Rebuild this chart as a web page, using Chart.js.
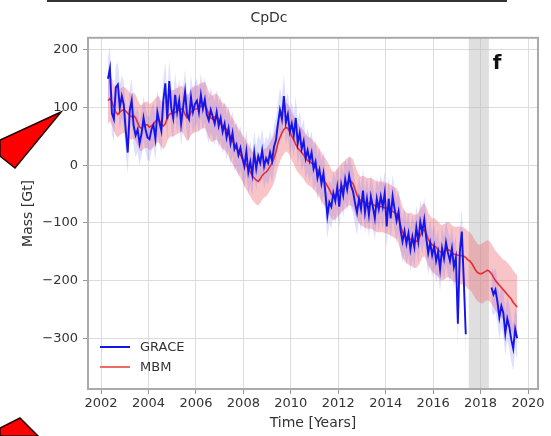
<!DOCTYPE html>
<html>
<head>
<meta charset="utf-8">
<script src="https://cdn.jsdelivr.net/npm/chart.js@4/dist/chart.umd.min.js"></script>
<style>
  html, body { margin: 0; padding: 0; background: #fff; }
  canvas { display: block; }
</style>
</head>
<body>
<canvas id="mass-chart" width="551" height="436"></canvas>
<script>
// Monthly series, first value is April 2002, last is July 2019.
const seriesStart = { year: 2002, month: 4 };

const mbmMass = [
  112, 116, 110, 100, 92, 88, 92, 95, 96,
  94, 90, 86, 84, 86, 82, 74, 66, 64, 68, 70, 70,
  66, 68, 72, 76, 80, 78, 72, 68, 72, 82, 88, 90,
  90, 92, 94, 96, 98, 96, 88, 82, 84, 92, 96, 97,
  98, 100, 102, 104, 104, 98, 88, 82, 80, 84, 84, 80,
  72, 68, 66, 62, 56, 48, 42, 36, 30, 24, 18, 12,
  6, 0, -6, -12, -18, -22, -26, -28, -24, -18, -14, -12,
  -8, -2, 4, 12, 24, 38, 48, 56, 62, 66, 64, 58,
  50, 44, 36, 30, 26, 22, 18, 12, 8, 6, 4, 0,
  -4, -8, -14, -20, -26, -30, -36, -42, -50, -54, -52, -48,
  -44, -40, -36, -34, -30, -28, -28, -32, -42, -52, -58, -62,
  -62, -64, -66, -66, -66, -68, -70, -72, -72, -72, -72, -74,
  -74, -76, -78, -80, -82, -84, -92, -104, -116, -122, -126, -128,
  -128, -130, -132, -132, -128, -122, -114, -112, -118, -128, -134, -138,
  -140, -142, -146, -150, -152, -150, -148, -146, -148, -152, -154, -155,
  -156, -156, -157, -158, -160, -164, -166, -170, -176, -182, -186, -188,
  -188, -186, -184, -182, -184, -188, -194, -200, -204, -208, -212, -216,
  -220, -224, -228, -232, -238, -242, -246
];

// null = no GRACE data (gap between GRACE and GRACE-FO)
const graceMass = [
  150, 168, 90, 80, 135, 140, 100, 120, 105,
  60, 22, 95, 112, 68, 52, 62, 38, 55, 82, 62, 48,
  45, 62, 70, 46, 92, 75, 60, 112, 142, 80, 146, 100,
  82, 122, 92, 112, 72, 100, 128, 88, 80, 118, 92, 106,
  112, 92, 122, 98, 114, 88, 78, 96, 84, 72, 92, 68,
  82, 58, 72, 48, 64, 38, 56, 28, 36, 18, 30, 12,
  -2, 24, -12, 6, -16, 22, -6, 16, 4, 26, -2, 12,
  4, 22, 8, 32, 44, 72, 96, 80, 120, 74, 88, 58,
  72, 52, 82, 38, 56, 28, 42, 12, 26, 8, 22, -6,
  6, -22, -8, -32, -14, -48, -88, -64, -72, -48, -62, -38,
  -72, -34, -52, -24, -42, -18, -36, -46, -66, -82, -58, -76,
  -44, -82, -58, -86, -54, -72, -92, -58, -76, -54, -72, -48,
  -106, -58, -92, -54, -76, -96, -80, -112, -132, -114, -136, -118,
  -146, -124, -142, -108, -132, -98, -116, -94, -126, -152, -134, -156,
  -140, -166, -150, -180, -144, -162, -134, -152, -166, -144, -176, -160,
  -275, -150, -115, -200, -293, null, null, null, null, null, null, null,
  null, null, null, null, null, -212, -224, -216, -236, -264, -244, -256,
  -292, -266, -280, -302, -318, -284, -300
];

// uncertainty (Gt): MBM per year 2002..2019, GRACE constant
const mbmErrorByYear = [40, 40, 40, 40, 40, 40, 42, 42, 42, 42, 42, 44, 44, 46, 48, 50, 52, 55];
const graceError = 38;

const xTickValues = [2002, 2004, 2006, 2008, 2010, 2012, 2014, 2016, 2018, 2020];
const yTickValues = [-300, -200, -100, 0, 100, 200];
const gapYears = [2017.5, 2018.35];
const panelLetter = 'f';

const fontFamily = '"DejaVu Sans", sans-serif';

function monthTime(i) {
  return seriesStart.year + (seriesStart.month - 1 + i + 0.5) / 12;
}

function toPoints(values, shift) {
  return values.map((v, i) => {
    const x = monthTime(i);
    if (v === null) return { x, y: null };
    return { x, y: v + (shift ? shift(i, x) : 0) };
  });
}

const mbmErr = (i, x) => mbmErrorByYear[Math.min(mbmErrorByYear.length - 1, Math.floor(x) - 2002)];

function formatMinus(v) {
  return v < 0 ? '\u2212' + Math.abs(v) : String(v);
}

const decorations = {
  id: 'decorations',
  beforeDatasetsDraw(chart) {
    const { ctx, chartArea, scales } = chart;
    const x0 = scales.x.getPixelForValue(gapYears[0]);
    const x1 = scales.x.getPixelForValue(gapYears[1]);
    ctx.save();
    ctx.fillStyle = 'rgba(185,185,185,0.45)';
    ctx.fillRect(x0, chartArea.top, x1 - x0, chartArea.bottom - chartArea.top);
    ctx.restore();
  },
  afterDraw(chart) {
    const { ctx, chartArea } = chart;
    ctx.save();
    // plot frame
    ctx.strokeStyle = '#aaa';
    ctx.lineWidth = 2;
    ctx.strokeRect(chartArea.left, chartArea.top, chartArea.right - chartArea.left, chartArea.bottom - chartArea.top);

    // panel letter
    ctx.fillStyle = '#111';
    ctx.font = 'bold 20px ' + fontFamily;
    ctx.textAlign = 'center';
    ctx.textBaseline = 'middle';
    ctx.fillText(panelLetter, chartArea.right - 41, chartArea.top + 26);

    // legend, lower left
    const items = [chart.data.datasets[0], chart.data.datasets[1]];
    ctx.font = '13px ' + fontFamily;
    ctx.textAlign = 'left';
    items.forEach((ds, k) => {
      const y = chartArea.bottom - 42 + k * 20;
      ctx.strokeStyle = k === 0 ? ds.borderColor : 'rgba(232,110,100,1)';
      ctx.lineWidth = 2;
      ctx.beginPath();
      ctx.moveTo(chartArea.left + 12, y);
      ctx.lineTo(chartArea.left + 42, y);
      ctx.stroke();
      ctx.fillStyle = '#333';
      ctx.fillText(ds.label, chartArea.left + 52, y + 1);
    });

    // rule left over from the panel above
    ctx.strokeStyle = '#333';
    ctx.lineWidth = 2;
    ctx.beginPath();
    ctx.moveTo(47, 1);
    ctx.lineTo(507, 1);
    ctx.stroke();

    // red arrows pasted on the figure
    ctx.fillStyle = '#f00';
    ctx.strokeStyle = '#200';
    ctx.lineWidth = 1.5;
    ctx.beginPath();
    ctx.moveTo(61, 112);
    ctx.lineTo(0, 140);
    ctx.lineTo(0, 156);
    ctx.lineTo(15, 168);
    ctx.closePath();
    ctx.fill();
    ctx.stroke();
    ctx.beginPath();
    ctx.moveTo(20, 418);
    ctx.lineTo(38, 436);
    ctx.lineTo(0, 436);
    ctx.lineTo(0, 428);
    ctx.closePath();
    ctx.fill();
    ctx.stroke();
    ctx.restore();
  }
};

const ctx = document.getElementById('mass-chart').getContext('2d');
new Chart(ctx, {
  type: 'line',
  data: {
    datasets: [
      {
        label: 'GRACE',
        data: toPoints(graceMass),
        borderColor: 'rgb(20,20,235)',
        borderWidth: 1.9,
        pointRadius: 0,
        spanGaps: false,
        fill: false,
        order: 0
      },
      {
        label: 'MBM',
        data: toPoints(mbmMass),
        borderColor: 'rgba(228,40,45,0.95)',
        borderWidth: 1.6,
        pointRadius: 0,
        fill: false,
        order: 1
      },
      {
        label: 'GRACE upper',
        data: toPoints(graceMass, () => graceError),
        borderWidth: 0,
        pointRadius: 0,
        spanGaps: false,
        backgroundColor: 'rgba(110,110,255,0.22)',
        fill: '+1',
        order: 2
      },
      {
        label: 'GRACE lower',
        data: toPoints(graceMass, () => -graceError),
        borderWidth: 0,
        pointRadius: 0,
        spanGaps: false,
        fill: false,
        order: 2
      },
      {
        label: 'MBM upper',
        data: toPoints(mbmMass, mbmErr),
        borderWidth: 0,
        pointRadius: 0,
        backgroundColor: 'rgba(240,100,110,0.38)',
        fill: '+1',
        order: 3
      },
      {
        label: 'MBM lower',
        data: toPoints(mbmMass, (i, x) => -mbmErr(i, x)),
        borderWidth: 0,
        pointRadius: 0,
        fill: false,
        order: 3
      }
    ]
  },
  options: {
    responsive: false,
    animation: false,
    devicePixelRatio: 1,
    layout: { padding: { left: 0, right: 13, top: 0, bottom: 0 } },
    plugins: {
      legend: { display: false },
      tooltip: { enabled: false },
      title: {
        display: true,
        text: 'CpDc',
        color: '#333',
        font: { family: fontFamily, size: 14, weight: 'normal' },
        padding: { top: 10, bottom: 11 }
      }
    },
    scales: {
      x: {
        type: 'linear',
        min: 2001.45,
        max: 2020.42,
        afterBuildTicks: scale => { scale.ticks = xTickValues.map(v => ({ value: v })); },
        afterFit: scale => { scale.height = 47; },
        ticks: {
          color: '#333',
          font: { family: fontFamily, size: 13 },
          padding: 2,
          maxRotation: 0,
          callback: v => String(v)
        },
        grid: { color: '#dcdcdc', tickColor: '#999', tickLength: 5, lineWidth: 1 },
        border: { display: false },
        title: {
          display: true,
          text: 'Time [Years]',
          color: '#333',
          font: { family: fontFamily, size: 14 },
          padding: { top: 0, bottom: 4 }
        }
      },
      y: {
        type: 'linear',
        min: -388,
        max: 221,
        afterBuildTicks: scale => { scale.ticks = yTickValues.map(v => ({ value: v })); },
        afterFit: scale => { scale.width = 88; },
        ticks: {
          color: '#333',
          font: { family: fontFamily, size: 13 },
          padding: 5,
          callback: v => formatMinus(v)
        },
        grid: { color: '#dcdcdc', tickColor: '#999', tickLength: 5, lineWidth: 1 },
        border: { display: false },
        title: {
          display: true,
          text: 'Mass [Gt]',
          color: '#333',
          font: { family: fontFamily, size: 14 },
          padding: { top: 20, bottom: 0 }
        }
      }
    }
  },
  plugins: [decorations]
});
</script>
</body>
</html>
